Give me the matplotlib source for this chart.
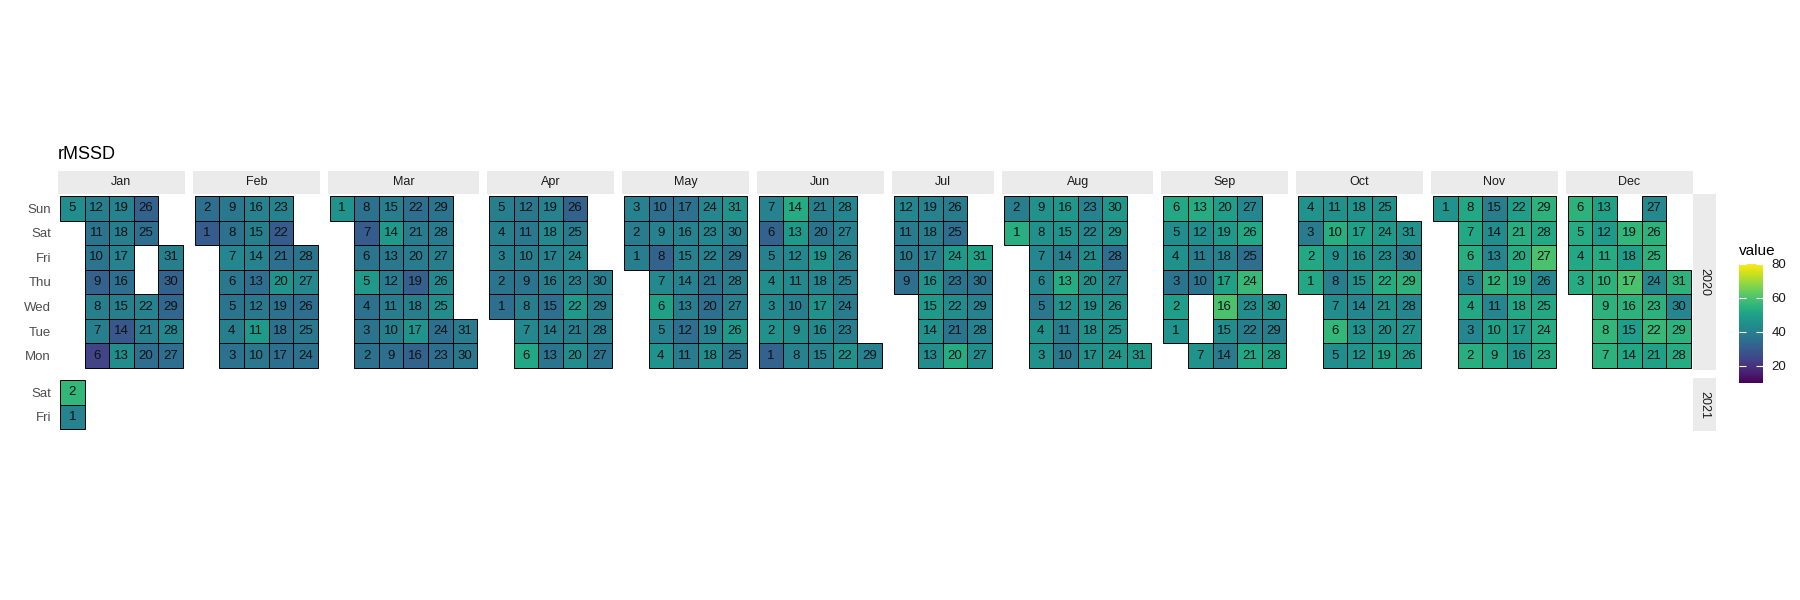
import datetime as dt
import matplotlib
import matplotlib.pyplot as plt
from matplotlib.patches import Rectangle
from matplotlib.colors import Normalize

plt.rcParams['font.family'] = ['Liberation Sans', 'DejaVu Sans']

months = ['Jan', 'Feb', 'Mar', 'Apr', 'May', 'Jun',
          'Jul', 'Aug', 'Sep', 'Oct', 'Nov', 'Dec']
weekdays = ['Mon', 'Tue', 'Wed', 'Thu', 'Fri', 'Sat', 'Sun']

# daily rMSSD, one list per month (index = day - 1), None = no reading
jan_2020 = [None, None, None, None, 44, 24, 40, 40, 32, 37, 37, 40, 44, 29, 40, 35,
            41, 40, 41, 35, 40, 41, None, None, 35, 32, 35, 42, 33, 32, 40]
feb_2020 = [30, 35, 36, 40, 37, 38, 42, 36, 38, 38, 48, 38, 35, 41, 40, 41,
            35, 36, 36, 46, 35, 30, 41, 36, 38, 35, 43, 37, None]
mar_2020 = [46, 36, 37, 36, 48, 37, 30, 36, 35, 40, 39, 39, 38, 48, 40, 32,
            46, 40, 31, 39, 39, 35, 35, 35, 44, 43, 40, 39, 37, 38, 39]
apr_2020 = [35, 37, 40, 40, 40, 52, 43, 40, 37, 40, 38, 38, 37, 40, 35, 40,
            41, 43, 41, 44, 40, 48, 41, 43, 39, 32, 37, 40, 40, 40]
may_2020 = [40, 39, 41, 46, 41, 50, 43, 32, 41, 35, 39, 35, 40, 41, 41, 41,
            36, 44, 41, 35, 37, 41, 42, 42, 37, 48, 40, 40, 37, 41, 46]
jun_2020 = [32, 45, 43, 44, 41, 32, 41, 41, 44, 40, 43, 43, 48, 53, 41, 43,
            45, 42, 46, 37, 40, 45, 40, 39, 40, 41, 41, 42, 41, None]
jul_2020 = [None, None, None, None, None, None, None, None, 35, 39, 39, 42, 44, 45, 48, 46,
            40, 40, 41, 53, 37, 44, 37, 48, 35, 39, 44, 41, 41, 37, 50]
aug_2020 = [54, 40, 45, 45, 38, 42, 42, 45, 45, 38, 39, 45, 53, 40, 46, 47,
            45, 45, 45, 45, 44, 43, 41, 47, 46, 46, 42, 35, 46, 47, 48]
sep_2020 = [46, 49, 37, 45, 44, 52, 46, None, None, 37, 40, 44, 53, 39, 44, 60,
            50, 41, 48, 49, 52, 40, 44, 57, 35, 52, 42, 50, 40, 46]
oct_2020 = [52, 52, 39, 46, 44, 56, 44, 40, 46, 54, 45, 46, 45, 42, 45, 45,
            50, 46, 50, 46, 45, 53, 44, 48, 45, 48, 46, 42, 55, 39, 46]
nov_2020 = [46, 54, 42, 52, 42, 54, 52, 52, 52, 50, 42, 55, 42, 44, 40, 46,
            48, 52, 53, 53, 54, 49, 53, 53, 52, 42, 60, 52, 55, None]
dec_2020 = [None, None, 53, 52, 53, 55, 55, 56, 55, 55, 53, 48, 50, 52, 49, 55,
            60, 49, 56, None, 50, 57, 55, 43, 55, 55, 43, 53, 55, 42, 55]
jan_2021 = [41, 56]

daily = {
    (2020, 1): jan_2020, (2020, 2): feb_2020, (2020, 3): mar_2020,
    (2020, 4): apr_2020, (2020, 5): may_2020, (2020, 6): jun_2020,
    (2020, 7): jul_2020, (2020, 8): aug_2020, (2020, 9): sep_2020,
    (2020, 10): oct_2020, (2020, 11): nov_2020, (2020, 12): dec_2020,
    (2021, 1): jan_2021,
}
years = [2020, 2021]


def week_of_month(d):
    first = d.replace(day=1).weekday()
    return (d.day + first - 1) // 7 + 1


# year, month, day, week-of-month (x), weekday Mon=1..Sun=7 (y), value
records = []
for (yr, mo), vals in daily.items():
    for day, v in enumerate(vals, start=1):
        if v is None:
            continue
        d = dt.date(yr, mo, day)
        records.append((yr, mo, day, week_of_month(d), d.weekday() + 1, v))

# free scales: week range per month column, weekday range per year row
xr = {}
for mo in range(1, 13):
    wk = [r[3] for r in records if r[1] == mo]
    xr[mo] = (min(wk), max(wk))
yrange = {}
for yr in years:
    wd = [r[4] for r in records if r[0] == yr]
    yrange[yr] = (min(wd), max(wd))

cmap = matplotlib.colormaps['viridis']
norm = Normalize(vmin=10, vmax=80)

W, H = 1800, 600
fig = plt.figure(figsize=(18, 6), dpi=100)


def px_axes(x, y, w, h):
    return fig.add_axes([x / W, 1 - (y + h) / H, w / W, h / H])


LEFT = 58
UNIT = 24.57
PAD = 2
GAP = 8
STRIP = 23
TOP = 194
STRIP_BG = '#ebebeb'

# panel geometry
col_x = {}
x = LEFT
for mo in range(1, 13):
    w = (xr[mo][1] - xr[mo][0] + 1) * UNIT + 2 * PAD
    col_x[mo] = (x, w)
    x += w + GAP
right_edge = col_x[12][0] + col_x[12][1]

row_y = {}
y = TOP
for yr in years:
    h = (yrange[yr][1] - yrange[yr][0] + 1) * UNIT + 2 * PAD
    row_y[yr] = (y, h)
    y += h + GAP

# month strips
for mo in range(1, 13):
    x0, w = col_x[mo]
    s = px_axes(x0, TOP - STRIP, w, STRIP)
    s.set_facecolor(STRIP_BG)
    s.set_xticks([]); s.set_yticks([])
    for sp in s.spines.values():
        sp.set_visible(False)
    s.text(0.5, 0.5, months[mo - 1], ha='center', va='center',
           fontsize=9, color='#1a1a1a', transform=s.transAxes)

# year strips
for yr in years:
    y0, h = row_y[yr]
    s = px_axes(right_edge, y0, STRIP, h)
    s.set_facecolor(STRIP_BG)
    s.set_xticks([]); s.set_yticks([])
    for sp in s.spines.values():
        sp.set_visible(False)
    s.text(0.5, 0.5, str(yr), ha='center', va='center', rotation=-90,
           fontsize=9, color='#1a1a1a', transform=s.transAxes)

# panels
p = PAD / UNIT
for yr in years:
    y0, h = row_y[yr]
    ylo, yhi = yrange[yr]
    for mo in range(1, 13):
        cells = [r for r in records if r[0] == yr and r[1] == mo]
        if not cells and mo != 1:
            continue
        x0, w = col_x[mo]
        ax = px_axes(x0, y0, w, h)
        ax.set_xlim(xr[mo][0] - 0.5 - p, xr[mo][1] + 0.5 + p)
        ax.set_ylim(ylo - 0.5 - p, yhi + 0.5 + p)
        ax.set_facecolor('none')
        for sp in ax.spines.values():
            sp.set_visible(False)
        ax.set_xticks([])
        if mo == 1:
            ticks = list(range(ylo, yhi + 1))
            ax.set_yticks(ticks)
            ax.set_yticklabels([weekdays[t - 1] for t in ticks])
            ax.tick_params(axis='y', length=0, pad=5, labelsize=9.5,
                           labelcolor='#4d4d4d')
        else:
            ax.set_yticks([])
        for _, _, day, wk, wd, v in cells:
            ax.add_patch(Rectangle((wk - 0.5, wd - 0.5), 1, 1,
                                   facecolor=cmap(norm(v)), edgecolor='black',
                                   linewidth=0.7))
            ax.text(wk, wd, str(day), ha='center', va='center',
                    fontsize=9.5, color='#111111')

fig.text(LEFT / W, 1 - 159 / H, 'rMSSD', fontsize=13, va='baseline')

# colour bar legend
cax = px_axes(1739, 264, 24, 119)
sm = matplotlib.cm.ScalarMappable(norm=norm, cmap=cmap)
cb = fig.colorbar(sm, cax=cax)
cb.outline.set_visible(False)
cb.set_ticks([20, 40, 60, 80])
cax.tick_params(axis='y', direction='in', length=5, width=0.8, color='white',
                left=True, right=True, labelleft=False, labelright=True,
                labelsize=9.5, labelcolor='#1a1a1a', pad=6)
fig.text(1739 / W, 1 - 255 / H, 'value', fontsize=11, va='baseline')

fig.savefig('out.png', dpi=100)
